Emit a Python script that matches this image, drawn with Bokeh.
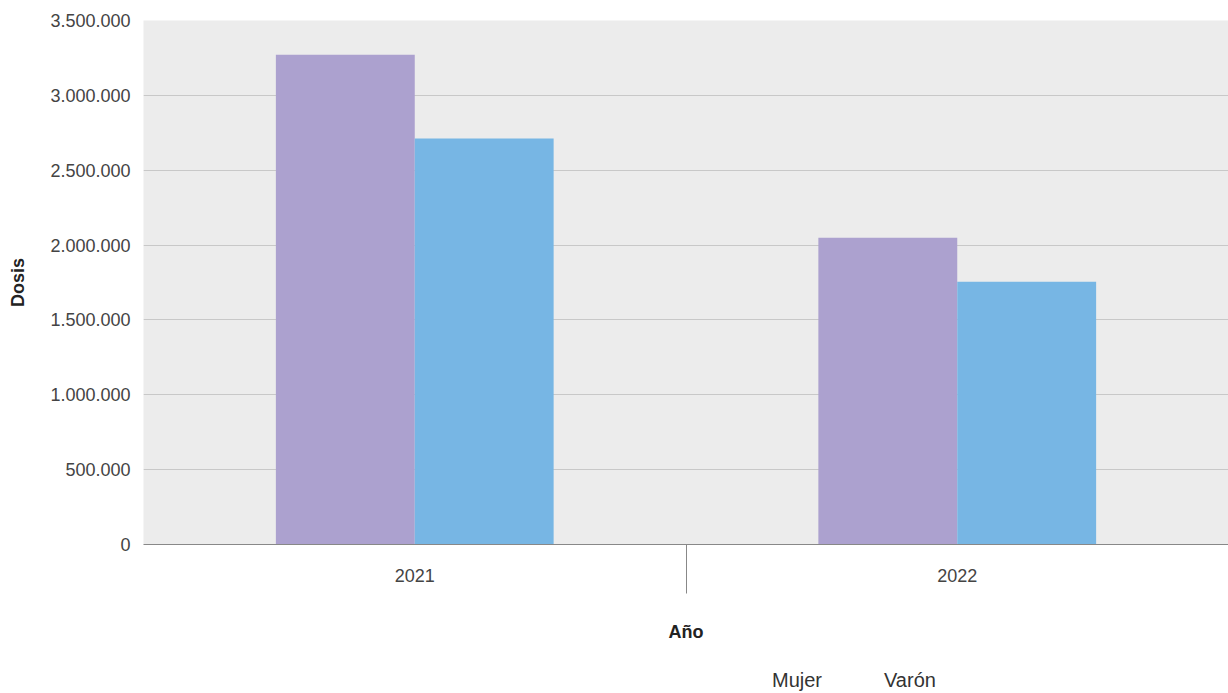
from bokeh.plotting import figure
from bokeh.layouts import column
from bokeh.models import (Range1d, FixedTicker, LinearAxis, Legend,
                          LegendItem, ColumnDataSource)
from bokeh.transform import dodge
from bokeh.embed import file_html
from bokeh.resources import INLINE

# ---- data ----
years = ["2021", "2022"]
series = ["Mujer", "Varón"]
mujer = [3272000, 2049000]
varon = [2711000, 1755000]
y_ticks = [0, 500000, 1000000, 1500000, 2000000, 2500000, 3000000, 3500000]
y_tick_labels = ["0", "500.000", "1.000.000", "1.500.000", "2.000.000",
                 "2.500.000", "3.000.000", "3.500.000"]
colors = ["#ACA1CF", "#77B6E4"]

FONT = "Liberation Sans"
TXT = "#444444"

# category centres on a numeric axis (one unit per category)
xpos = [i + 0.5 for i in range(len(years))]
src = ColumnDataSource(dict(x=xpos, year=years, Mujer=mujer, Varon=varon))

p = figure(width=1228, height=664,
           x_range=Range1d(0, len(years)),
           y_range=Range1d(y_ticks[0], y_ticks[-1]),
           output_backend="svg", toolbar_location=None,
           min_border_left=143, min_border_right=0, min_border_top=20,
           min_border_bottom=120)
p.background_fill_color = "#ECECEC"
p.border_fill_color = "white"
p.outline_line_color = None

bw = 0.256
r1 = p.vbar(x=dodge("x", -bw / 2), top="Mujer", width=bw,
            source=src, fill_color=colors[0], line_color=None)
r2 = p.vbar(x=dodge("x", bw / 2), top="Varon", width=bw,
            source=src, fill_color=colors[1], line_color=None)

# y axis
yax = p.yaxis[0]
yax.ticker = FixedTicker(ticks=y_ticks)
yax.major_label_overrides = {t: l for t, l in zip(y_ticks, y_tick_labels)}
yax.axis_line_color = None
yax.major_tick_line_color = None
yax.major_tick_out = 0
yax.major_tick_in = 0
yax.minor_tick_line_color = None
yax.major_label_standoff = 13
yax.major_label_text_font = FONT
yax.major_label_text_font_size = "18px"
yax.major_label_text_color = TXT
yax.axis_label = "Dosis"
yax.axis_label_text_font = FONT
yax.axis_label_text_font_size = "18px"
yax.axis_label_text_font_style = "bold"
yax.axis_label_text_color = "#222222"
yax.axis_label_standoff = 19

p.xgrid.grid_line_color = None
p.ygrid.ticker = FixedTicker(ticks=y_ticks[1:-1])
p.ygrid.grid_line_color = "#C8C8C8"
p.ygrid.grid_line_width = 1

# x axis (category labels)
xax = p.xaxis[0]
xax.ticker = FixedTicker(ticks=xpos)
xax.major_label_overrides = {x: y for x, y in zip(xpos, years)}
xax.axis_line_color = "#888888"
xax.axis_line_width = 1
xax.major_tick_line_color = None
xax.minor_tick_line_color = None
xax.major_label_standoff = 18
xax.major_label_text_font = FONT
xax.major_label_text_font_size = "18px"
xax.major_label_text_color = TXT

# divider ticks between categories
div_ticks = list(range(1, len(years)))
div_ax = LinearAxis(ticker=FixedTicker(ticks=div_ticks),
                    major_label_overrides={t: "" for t in div_ticks},
                    axis_line_color=None,
                    major_tick_line_color="#888888",
                    major_tick_in=40, major_tick_out=9,
                    minor_tick_line_color=None,
                    major_label_standoff=0,
                    axis_label="Año",
                    axis_label_text_font=FONT,
                    axis_label_text_font_size="18px",
                    axis_label_text_font_style="bold",
                    axis_label_text_color="#222222",
                    axis_label_standoff=28)
p.add_layout(div_ax, "below")

# ---- legend strip (separate small figure below the chart) ----
lf = figure(width=1228, height=29, x_range=Range1d(0, 1), y_range=Range1d(0, 1),
            output_backend="svg", toolbar_location=None,
            x_axis_location=None, y_axis_location=None,
            min_border_left=0, min_border_right=0, min_border_top=0,
            min_border_bottom=0)
lf.outline_line_color = None
lf.background_fill_color = "white"
lf.border_fill_color = "white"
lf.xgrid.grid_line_color = None
lf.ygrid.grid_line_color = None

empty = ColumnDataSource(dict(x=[], top=[]))
lr = [lf.vbar(x="x", top="top", width=0.1, source=empty,
              fill_color=c, line_color=None) for c in colors]

legend = Legend(items=[LegendItem(label=s, renderers=[r])
                       for s, r in zip(series, lr)],
                orientation="horizontal", location=(599, 1),
                glyph_width=22, glyph_height=22, label_standoff=8, spacing=32,
                label_text_font=FONT, label_text_font_size="20px",
                label_text_color="#333333",
                border_line_color=None, background_fill_alpha=0,
                margin=0, padding=0)
lf.add_layout(legend, "center")

layout = column(p, lf, spacing=0)
open("out.html", "w").write(file_html(layout, INLINE))
